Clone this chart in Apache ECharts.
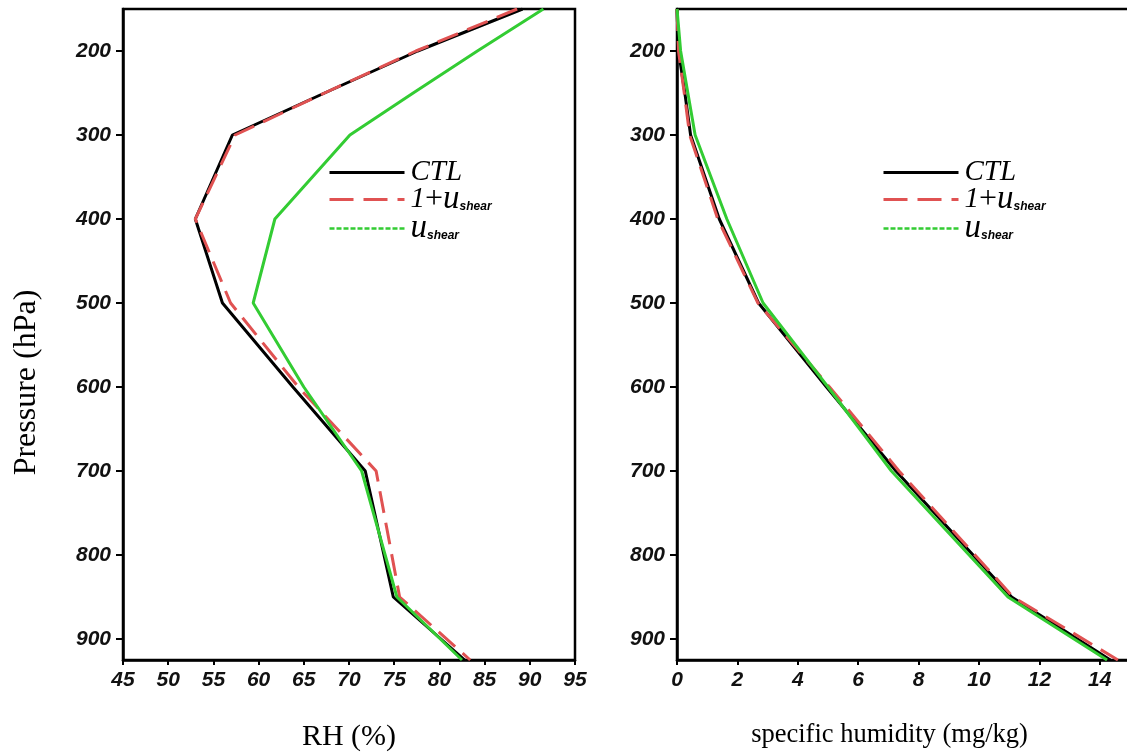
<!DOCTYPE html>
<html>
<head>
<meta charset="utf-8">
<script src="https://cdn.jsdelivr.net/npm/echarts@6/dist/echarts.min.js"></script>
<style>
  html, body { margin: 0; padding: 0; background: #fff; }
  #chart { width: 1127px; height: 755px; }
</style>
</head>
<body>
<div id="chart"></div>
<script>
// Pressure levels (hPa) of the vertical profiles
const pressureLevels = [150, 200, 250, 300, 400, 500, 600, 700, 850, 925];

// Relative humidity profiles (%)
const rhCTL   = [89.2, 77.6, 67.3, 57.1, 53.0, 56.0, 63.8, 71.8, 74.9, 82.8];
const rhPert  = [88.6, 77.4, 67.3, 57.4, 53.0, 56.9, 64.4, 73.0, 75.6, 83.4];
const rhShear = [91.5, 84.2, 77.1, 70.1, 61.8, 59.4, 65.0, 71.4, 75.3, 82.5];

// Specific humidity profiles
const qCTL   = [0.0, 0.05, 0.26, 0.45, 1.40, 2.70, 4.95, 7.25, 11.08, 14.35];
const qPert  = [0.0, 0.05, 0.24, 0.42, 1.35, 2.68, 5.05, 7.35, 11.13, 14.60];
const qShear = [0.0, 0.12, 0.36, 0.60, 1.65, 2.85, 5.00, 7.10, 10.96, 14.24];

// Tick labels
const pressureTicks = [200, 300, 400, 500, 600, 700, 800, 900];
const rhTicks = [45, 50, 55, 60, 65, 70, 75, 80, 85, 90, 95];
const qTicks = [0, 2, 4, 6, 8, 10, 12, 14];

const seriesNames = ['CTL', '1+u_shear', 'u_shear'];
const colors = ['#000000', '#e05252', '#33cc33'];

const pairs = (xs) => xs.map((x, i) => [x, pressureLevels[i]]);

const tickFont = {
  fontFamily: 'Liberation Sans, Arial, sans-serif',
  fontWeight: 'bold',
  fontStyle: 'italic',
  fontSize: 21,
  color: '#111'
};
const serif = 'Liberation Serif, Times New Roman, serif';
const axisLineStyle = { color: '#000', width: 2.5 };

function xAxisFor(gridIndex, min, max, ticks, name, nameStyle) {
  return {
    type: 'value', gridIndex, min, max,
    name, nameLocation: 'middle', nameGap: 62, nameTextStyle: nameStyle,
    axisLine: { show: true, onZero: false, lineStyle: axisLineStyle },
    axisTick: { show: true, inside: false, length: 5, lineStyle: { color: '#000', width: 2 }, customValues: ticks },
    axisLabel: Object.assign({ margin: 10, customValues: ticks }, tickFont),
    splitLine: { show: false }
  };
}
function yAxisFor(gridIndex, name, nameStyle) {
  return {
    type: 'value', gridIndex, min: 150, max: 925, inverse: true,
    name, nameLocation: 'middle', nameGap: 80, nameTextStyle: nameStyle,
    axisLine: { show: true, onZero: false, lineStyle: axisLineStyle },
    axisTick: { show: true, inside: false, length: 7, lineStyle: { color: '#000', width: 2 }, customValues: pressureTicks },
    axisLabel: Object.assign({ margin: 12, customValues: pressureTicks }, tickFont),
    splitLine: { show: false }
  };
}

const legendRich = {
  it:  { fontFamily: serif, fontStyle: 'italic', fontSize: 29, lineHeight: 26, color: '#000' },
  pl:  { fontFamily: serif, fontSize: 32, lineHeight: 26, color: '#000' },
  u:   { fontFamily: serif, fontStyle: 'italic', fontSize: 33, lineHeight: 26, color: '#000' },
  sub: { fontFamily: 'Liberation Sans, sans-serif', fontWeight: 'bold', fontStyle: 'italic', fontSize: 12, lineHeight: 26, verticalAlign: 'bottom', color: '#000' }
};
function legendText(name) {
  if (name === 'CTL') return '{it|CTL}';
  if (name === '1+u_shear') return '{it|1}{pl|+}{u|u}{sub|shear}';
  return '{u|u}{sub|shear}';
}
function legendFor(left) {
  return {
    orient: 'vertical', left, top: 153,
    itemWidth: 75, itemHeight: 14, itemGap: -4,
    selectedMode: false,
    itemStyle: { opacity: 0 },
    data: [
      { name: seriesNames[0], lineStyle: { width: 3 } },
      { name: seriesNames[1], lineStyle: { type: [24, 10], width: 3 } },
      { name: seriesNames[2], lineStyle: { type: [5, 2], width: 2.5 } }
    ],
    formatter: legendText,
    textStyle: { lineHeight: 26, padding: [0, 0, 0, 1], rich: legendRich }
  };
}

function lineSeries(idx, data, gridIdx) {
  return {
    name: seriesNames[idx],
    type: 'line',
    xAxisIndex: gridIdx, yAxisIndex: gridIdx,
    data: pairs(data),
    symbol: 'none',
    lineStyle: {
      color: colors[idx],
      width: 3,
      type: idx === 1 ? [22, 10] : 'solid'
    },
    itemStyle: { color: colors[idx] },
    z: 2 + idx,
    animation: false
  };
}

const chart = echarts.init(document.getElementById('chart'), null, { renderer: 'canvas' });
chart.setOption({
  backgroundColor: '#fff',
  animation: false,
  grid: [
    { left: 123, top: 9, width: 452, height: 651, outerBoundsMode: 'none',
      show: true, borderColor: '#000', borderWidth: 2.5 },
    { left: 677, top: 9, width: 453, height: 651, outerBoundsMode: 'none',
      show: true, borderColor: '#000', borderWidth: 2.5 }
  ],
  xAxis: [
    xAxisFor(0, 45, 95, rhTicks, 'RH (%)',
      { fontFamily: serif, fontSize: 30, color: '#000' }),
    xAxisFor(1, 0, 15, qTicks, 'specific humidity (mg/kg)',
      { fontFamily: serif, fontSize: 26.5, color: '#000', padding: [0, 28, 0, 0] })
  ],
  yAxis: [
    yAxisFor(0, 'Pressure (hPa)', { fontFamily: serif, fontSize: 32, color: '#000', padding: [0, 96, 0, 0] }),
    yAxisFor(1, '', {})
  ],
  legend: [legendFor(323), legendFor(877)],
  series: [
    lineSeries(0, rhCTL, 0),
    lineSeries(1, rhPert, 0),
    lineSeries(2, rhShear, 0),
    lineSeries(0, qCTL, 1),
    lineSeries(1, qPert, 1),
    lineSeries(2, qShear, 1)
  ]
});
</script>
</body>
</html>
